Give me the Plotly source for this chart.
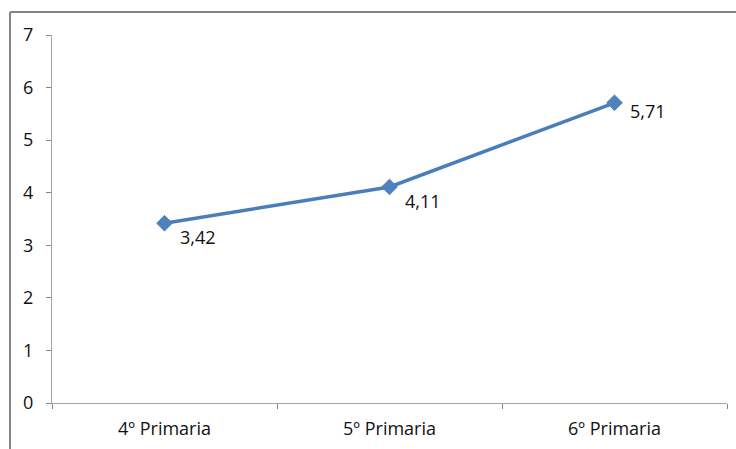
import plotly.graph_objects as go

# Grades and average scores
cursos = ["4º Primaria", "5º Primaria", "6º Primaria"]
valores = [3.42, 4.11, 5.71]
etiquetas = ["3,42", "4,11", "5,71"]

W, H = 736, 449
ML, MR, MT, MB = 52, 9, 35, 44
pw, ph = W - ML - MR, H - MT - MB

fig = go.Figure()
fig.add_trace(go.Scatter(
    x=cursos, y=valores, mode="lines+markers",
    line=dict(color="#4A7EBB", width=3.5),
    marker=dict(symbol="diamond", size=12, color="#4F81BD",
                line=dict(color="#4A7EBB", width=1)),
    hoverinfo="skip",
))

# Data labels sit to the lower right of each marker
desplaz_y = [-14, -14, -8]
for c, v, t, dy in zip(cursos, valores, etiquetas, desplaz_y):
    fig.add_annotation(x=c, y=v, text=t, showarrow=False,
                       xanchor="left", yanchor="middle",
                       xshift=13, yshift=dy,
                       font=dict(family="Open Sans", size=18, color="#111"))

# Outer chart frame (left and top edges)
fx0 = (10 - ML) / pw
fy1 = 1 + (MT - 12) / ph
fig.add_shape(type="line", xref="paper", yref="paper",
              x0=fx0, x1=fx0, y0=fy1, y1=-MB / ph - 0.05,
              line=dict(color="#868686", width=2))
fig.add_shape(type="line", xref="paper", yref="paper",
              x0=fx0, x1=(W - ML) / pw + 0.05, y0=fy1, y1=fy1,
              line=dict(color="#868686", width=2))

fig.update_layout(
    width=W, height=H,
    margin=dict(l=ML, r=MR, t=MT, b=MB),
    paper_bgcolor="white", plot_bgcolor="white",
    showlegend=False,
    font=dict(family="Open Sans", size=18, color="#111"),
    xaxis=dict(type="category", range=[-0.5, 2.5], tickson="boundaries",
               ticks="outside", ticklen=5, tickcolor="#868686",
               showline=True, linecolor="#A6A6A6", linewidth=1,
               showgrid=False, zeroline=False, fixedrange=True,
               ticklabelstandoff=9, tickfont=dict(size=18)),
    yaxis=dict(range=[0, 7], dtick=1, ticks="outside", ticklen=5,
               tickcolor="#868686", showline=True, linecolor="#A6A6A6",
               linewidth=1, showgrid=False, zeroline=False, fixedrange=True,
               ticklabelstandoff=9, tickfont=dict(size=18)),
)

fig.write_html("out.html")
